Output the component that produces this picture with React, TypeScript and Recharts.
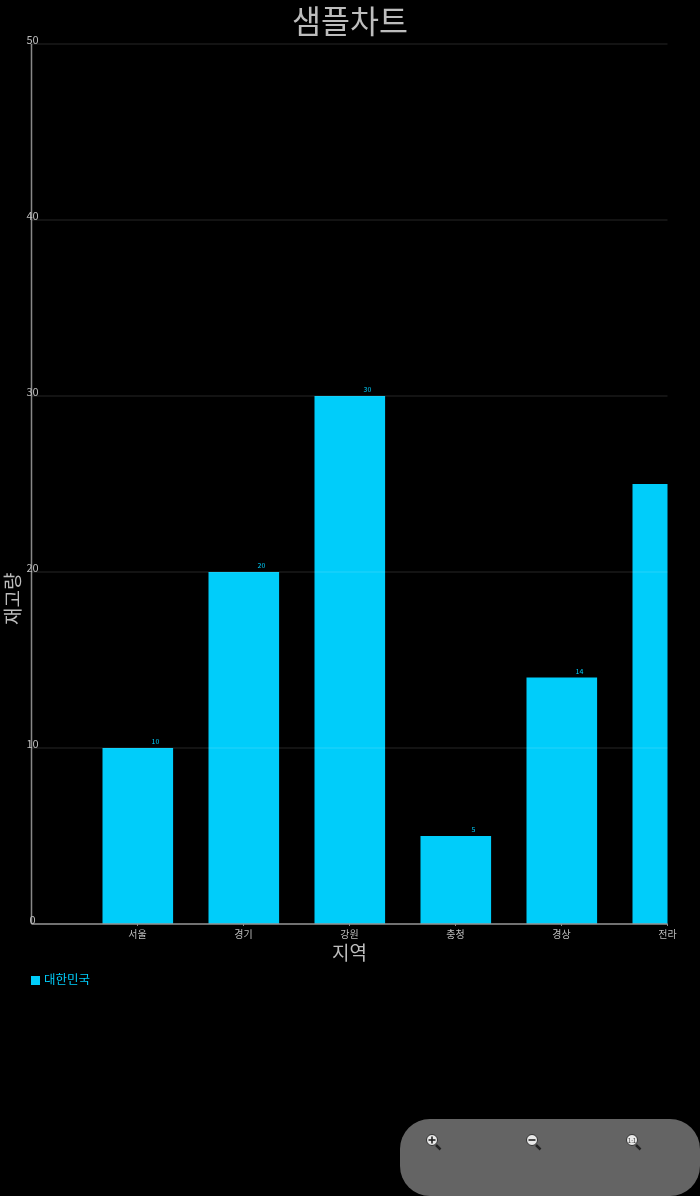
import { BarChart, Bar, XAxis, YAxis, CartesianGrid, Legend, LabelList } from "recharts";

const FONT = '"Noto Sans CJK KR", "Noto Sans", sans-serif';

const categories = ["서울", "경기", "강원", "충청", "경상", "전라"];
const stock = [10, 20, 30, 5, 14, 25];
const yTicks = [0, 10, 20, 30, 40, 50];
const xPositions = [1, 2, 3, 4, 5, 6];

const data = categories.map((name, i) => ({ pos: xPositions[i], name, stock: stock[i] }));

// value sits right of the bar centre, and gets cut off for the last bar
const ValueLabel = ({ x, y, width, value }: any) => {
  if (x + width > 668) return null;
  return (
    <text x={x + width * 0.75} y={y - 4} textAnchor="middle" fontSize={7} fill="#00cdfa" fontFamily={FONT}>
      {value}
    </text>
  );
};

const YTick = ({ x, y, payload }: any) => (
  <text x={x + 9} y={y} textAnchor="middle" fontSize={11} fill="#bdbdbd" fontFamily={FONT}>
    {payload.value}
  </text>
);

const ZoomIcon = ({ x, kind }: { x: number; kind: string }) => (
  <svg width={20} height={20} style={{ position: "absolute", left: x, top: 14 }}>
    <line x1={12} y1={12} x2={16.5} y2={16.5} stroke="#222" strokeWidth={2.5} />
    <circle cx={8} cy={7} r={5.5} fill="#e8e8e8" stroke="#333" strokeWidth={1} />
    {kind === "1:1" ? (
      <text x={8} y={9.5} textAnchor="middle" fontSize={6} fill="#333" fontFamily={FONT}>
        1:1
      </text>
    ) : (
      <g stroke="#222" strokeWidth={1.6}>
        <line x1={4.5} y1={7} x2={11.5} y2={7} />
        {kind === "+" && <line x1={8} y1={3.5} x2={8} y2={10.5} />}
      </g>
    )}
  </svg>
);

export default function App() {
  return (
    <div style={{ position: "absolute", left: 0, top: 0, width: 700, height: 1196, background: "#000", overflow: "hidden", fontFamily: FONT }}>
      <div style={{ position: "absolute", top: 0, width: 700, height: 1196, willChange: "transform" }}>
        <div style={{ position: "absolute", top: 0, width: 700, textAlign: "center", fontSize: 31.5, lineHeight: "38px", color: "#bdbdbd" }}>
          샘플차트
        </div>

        <BarChart width={700} height={1196} data={data} margin={{ top: 26, right: 32.5, bottom: 232, left: 0 }}>
          <XAxis
            dataKey="pos"
            type="number"
            domain={[0, 6]}
            ticks={xPositions}
            allowDataOverflow
            interval={0}
            height={40}
            tickFormatter={(v) => categories[v - 1]}
            tick={{ fontSize: 10, fill: "#bdbdbd", fontFamily: FONT, dy: 3 }}
            tickSize={2}
            tickLine={{ stroke: "#888" }}
            axisLine={{ stroke: "#888", strokeWidth: 1.5 }}
            label={{ value: "지역", position: "insideBottom", offset: 4, fontSize: 19, fill: "#bdbdbd", fontFamily: FONT }}
          />
          <YAxis
            type="number"
            domain={[0, 50]}
            ticks={yTicks}
            width={31.5}
            tick={<YTick />}
            tickLine={false}
            axisLine={{ stroke: "#888", strokeWidth: 1.5 }}
            label={{ value: "재고량", angle: -90, position: "insideLeft", dx: 8, dy: 141, fontSize: 19, fill: "#bdbdbd", fontFamily: FONT }}
          />
          <Bar dataKey="stock" name="대한민국" fill="#00cdfa" barSize={70.6} isAnimationActive={false}>
            <LabelList dataKey="stock" content={<ValueLabel />} />
          </Bar>
          <CartesianGrid vertical={false} stroke="#fff" strokeOpacity={0.15} zIndex={500} />
          <Legend
            verticalAlign="top"
            align="left"
            iconType="square"
            iconSize={9}
            wrapperStyle={{ position: "absolute", left: 31, top: 970, width: 200, fontSize: 12.5, lineHeight: "18px" }}
          />
        </BarChart>

        <div style={{ position: "absolute", left: 400, top: 1119, width: 300, height: 77, borderRadius: 30, background: "#646464" }}>
          <ZoomIcon x={24} kind="+" />
          <ZoomIcon x={124} kind="-" />
          <ZoomIcon x={224} kind="1:1" />
        </div>
      </div>
    </div>
  );
}
